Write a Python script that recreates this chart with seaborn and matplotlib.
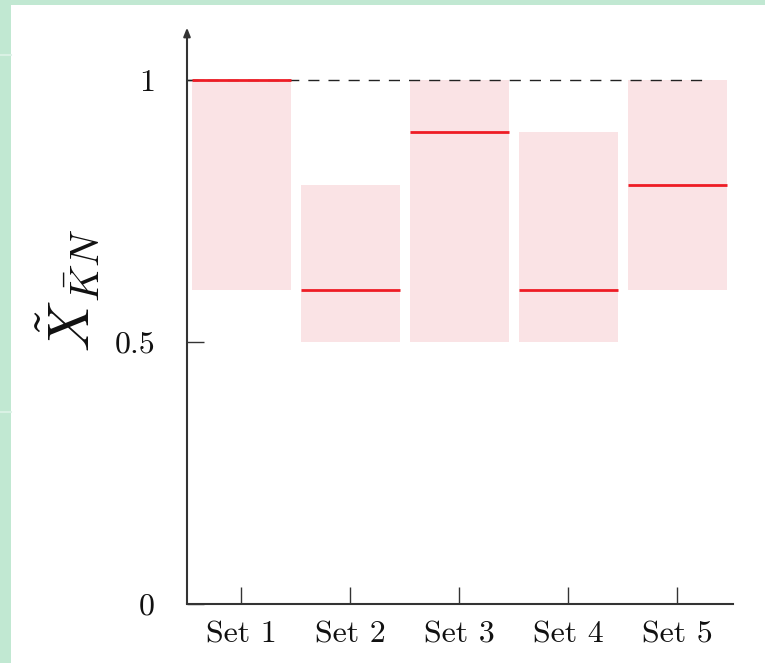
"""Floating range bars per set with a red marker line for the central value."""
import numpy as np
import matplotlib
matplotlib.use("Agg")
import matplotlib.pyplot as plt
import seaborn as sns
from matplotlib.patches import Rectangle
from matplotlib.lines import Line2D

SETS = ["Set 1", "Set 2", "Set 3", "Set 4", "Set 5"]
LOW = [0.6, 0.5, 0.5, 0.5, 0.6]
HIGH = [1.0, 0.8, 1.0, 0.9, 1.0]
CENTRAL = [1.0, 0.6, 0.9, 0.6, 0.8]
REFERENCE = 1.0
YTICKS = [0, 0.5, 1]
YTICK_LABELS = ["0", "0.5", "1"]

GREEN = "#c1e8d2"
PINK = "#fae3e5"
RED = "#ee1c25"
AXIS = "#333333"

sns.set_style("white")
plt.rcParams["font.family"] = ["cmr10", "DejaVu Serif"]
plt.rcParams["mathtext.fontset"] = "cm"
plt.rcParams["axes.unicode_minus"] = False

W, H = 765, 663
fig = plt.figure(figsize=(W / 100, H / 100), dpi=100, facecolor=GREEN)
# white page on green frame
fig.add_artist(Rectangle((11 / W, 0), 1 - 11 / W, 1 - 5 / H,
                         transform=fig.transFigure, facecolor="white",
                         edgecolor="none", zorder=-10))
for yy in (55, 412):
    fig.add_artist(Line2D([0, 11 / W], [1 - yy / H] * 2, transform=fig.transFigure,
                          color="#d9f1e4", lw=1.5, zorder=-9))

ax = fig.add_axes([187 / W, 59 / H, (733 - 187) / W, 1 - 59 / H - 27.6 / H])
ax.set_facecolor("none")

heights = np.array(HIGH) - np.array(LOW)
bw = 0.91
sns.barplot(x=SETS, y=heights, bottom=LOW, color=PINK, saturation=1,
            width=bw, errorbar=None, ax=ax, linewidth=0, zorder=1)

ax.axhline(REFERENCE, xmax=0.95, color="#222222", lw=1.0, dashes=(8, 6.5), zorder=2)
xs = np.arange(len(SETS))
ax.hlines(CENTRAL, xs - bw / 2, xs + bw / 2, color=RED, lw=2.0, zorder=3)

ax.set_xlim(-0.5, 4.51)
ax.set_ylim(0, 1.1)
ax.set_yticks(YTICKS)
ax.set_yticklabels(YTICK_LABELS)
ax.set_xticks(xs)
ax.set_xticklabels(SETS)
ax.tick_params(axis="both", direction="in", length=12, width=1.0, color=AXIS,
               labelsize=23, labelcolor="#111111", bottom=True, left=True)
ax.tick_params(axis="x", pad=12)
ax.tick_params(axis="y", pad=23)

for s in ("top", "right", "left"):
    ax.spines[s].set_visible(False)
ax.spines["bottom"].set_color(AXIS)
ax.spines["bottom"].set_linewidth(1.5)
ax.annotate("", xy=(0, 1.0), xytext=(0, 0), xycoords="axes fraction",
            arrowprops=dict(arrowstyle="-|>,head_length=0.5,head_width=0.2",
                            color=AXIS, lw=1.5, shrinkA=0, shrinkB=0))

ax.set_ylabel(r"$\tilde{X}_{\bar{K}N}$", fontsize=42, color="#111111")
ax.yaxis.set_label_coords(-0.155, 0.545)
ax.set_xlabel("")

fig.savefig("out.png", dpi=100, facecolor=GREEN)
